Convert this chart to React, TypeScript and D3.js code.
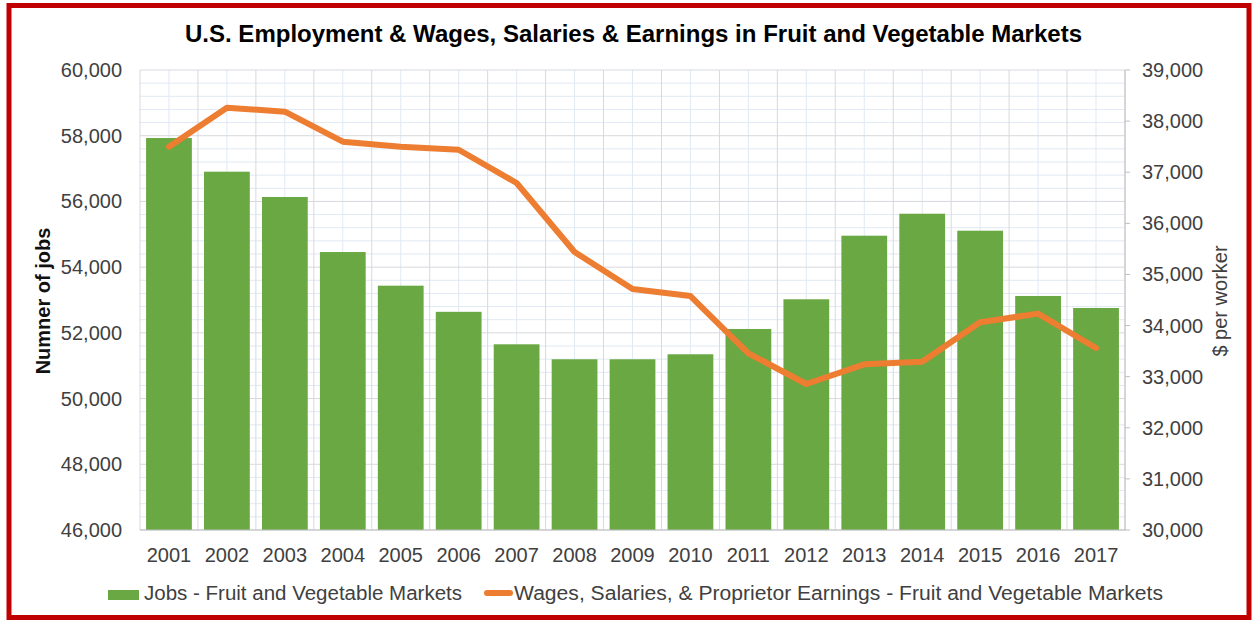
import React from "react";
import * as d3 from "d3";

const years = ["2001","2002","2003","2004","2005","2006","2007","2008","2009","2010","2011","2012","2013","2014","2015","2016","2017"];
const jobs = [57930, 56905, 56135, 54460, 53436, 52640, 51652, 51196, 51196, 51348, 52118, 53022, 54957, 55626, 55109, 53122, 52757];
const wages = [37500, 38260, 38185, 37597, 37500, 37440, 36789, 35439, 34715, 34578, 33457, 32857, 33241, 33292, 34064, 34234, 33560];
const leftTicks = [46000, 48000, 50000, 52000, 54000, 56000, 58000, 60000];
const rightTicks = [30000, 31000, 32000, 33000, 34000, 35000, 36000, 37000, 38000, 39000];
const title = "U.S. Employment & Wages, Salaries & Earnings in Fruit and Vegetable Markets";
const leftTitle = "Numner of jobs";
const rightTitle = "$ per worker";
const legendJobs = "Jobs - Fruit and Vegetable Markets";
const legendWages = "Wages, Salaries, & Proprietor Earnings - Fruit and Vegetable Markets";

const W = 1255, H = 621;
const X0 = 140, X1 = 1125, Y0 = 70, Y1 = 530;
const FONT = "'Liberation Sans', Arial, sans-serif";
const GREEN = "#6aa843";
const ORANGE = "#ed7d31";
const TXT = "#404040";

export default function App() {
  const x = d3.scaleBand<string>().domain(years).range([X0, X1]).paddingInner(0.21).paddingOuter(0.105);
  const yL = d3.scaleLinear().domain([46000, 60000]).range([Y1, Y0]);
  const yR = d3.scaleLinear().domain([30000, 39000]).range([Y1, Y0]);
  const fmt = d3.format(",");
  const minorH = d3.range(46000, 60001, 400).filter((v) => v % 2000 !== 0);
  const step = x.step();
  const boundaries = d3.range(years.length + 1).map((i) => X0 + i * step);
  const centers = years.map((yr) => (x(yr) as number) + x.bandwidth() / 2);
  const line = d3.line<number>().x((_, i) => centers[i]).y((d) => yR(d));

  return (
    <div style={{ position: "fixed", left: 0, top: 0 }}>
      <svg width={W} height={H} style={{ display: "block" }}>
        <rect x={0} y={0} width={W} height={H} fill="#fff" />
        <rect x={9} y={5.5} width={1240} height={612} fill="#fff" stroke="#c00000" strokeWidth={5} />
        {minorH.map((v) => (
          <line key={"mh" + v} x1={X0} x2={X1} y1={yL(v)} y2={yL(v)} stroke="#e1e9f4" strokeWidth={1} />
        ))}
        {centers.map((c, i) => (
          <line key={"mv" + i} x1={c} x2={c} y1={Y0} y2={Y1} stroke="#e1e9f4" strokeWidth={1} />
        ))}
        {leftTicks.map((v) => (
          <line key={"h" + v} x1={X0} x2={X1} y1={yL(v)} y2={yL(v)} stroke="#d6d9de" strokeWidth={1} />
        ))}
        {boundaries.map((b, i) => (
          <line key={"v" + i} x1={b} x2={b} y1={Y0} y2={Y1} stroke="#d6d9de" strokeWidth={1} />
        ))}
        {years.map((yr, i) => (
          <rect key={yr} x={x(yr)} y={yL(jobs[i])} width={x.bandwidth()} height={Y1 - yL(jobs[i])} fill={GREEN} />
        ))}
        <line x1={X0} x2={X1} y1={Y1} y2={Y1} stroke="#bfbfbf" strokeWidth={1} />
        <line x1={X1} x2={X1} y1={Y0} y2={Y1} stroke="#bfbfbf" strokeWidth={1} />
        {rightTicks.map((v) => (
          <line key={"rt" + v} x1={X1} x2={X1 + 5} y1={yR(v)} y2={yR(v)} stroke="#bfbfbf" strokeWidth={1} />
        ))}
        <path d={line(wages) || ""} fill="none" stroke={ORANGE} strokeWidth={6} strokeLinejoin="round" strokeLinecap="round" />
        {leftTicks.map((v) => (
          <text key={"lt" + v} x={122} y={yL(v) + 7} textAnchor="end" fontFamily={FONT} fontSize={20} fill={TXT}>{fmt(v)}</text>
        ))}
        {rightTicks.map((v) => (
          <text key={"rl" + v} x={1142} y={yR(v) + 7} textAnchor="start" fontFamily={FONT} fontSize={20} fill={TXT}>{fmt(v)}</text>
        ))}
        {years.map((yr, i) => (
          <text key={"x" + yr} x={centers[i]} y={562} textAnchor="middle" fontFamily={FONT} fontSize={20} fill={TXT}>{yr}</text>
        ))}
        <text x={185} y={42} fontFamily={FONT} fontWeight="bold" fontSize={23.5} fill="#000" textLength={897} lengthAdjust="spacingAndGlyphs">{title}</text>
        <text transform="translate(50,301) rotate(-90)" textAnchor="middle" fontFamily={FONT} fontWeight="bold" fontSize={20} fill="#111">{leftTitle}</text>
        <text transform="translate(1227,301) rotate(-90)" textAnchor="middle" fontFamily={FONT} fontSize={20} fill={TXT}>{rightTitle}</text>
        <rect x={108} y={590} width={31} height={10} fill={GREEN} />
        <text x={144} y={600} fontFamily={FONT} fontSize={20} fill={TXT} textLength={318} lengthAdjust="spacingAndGlyphs">{legendJobs}</text>
        <line x1={487} x2={510} y1={593} y2={593} stroke={ORANGE} strokeWidth={6} strokeLinecap="round" />
        <text x={514} y={600} fontFamily={FONT} fontSize={20} fill={TXT} textLength={649} lengthAdjust="spacingAndGlyphs">{legendWages}</text>
      </svg>
    </div>
  );
}
